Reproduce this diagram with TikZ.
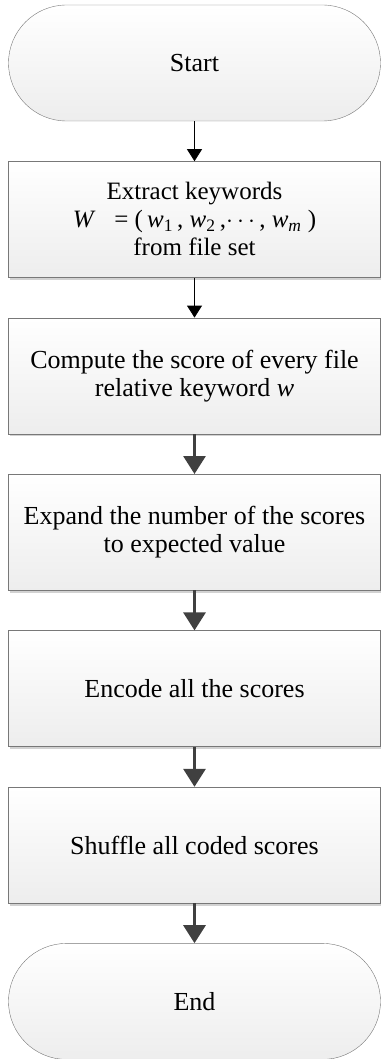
\documentclass[tikz,border=0pt]{standalone}
\usepackage{fontspec}
\setmainfont{Liberation Serif}
\usepackage{tikz}
\usetikzlibrary{arrows.meta,positioning,shadows}

\definecolor{boxline}{RGB}{120,120,120}
\definecolor{arrowgray}{RGB}{64,64,64}

\tikzset{
	terminal/.style={draw=boxline, rounded corners=58pt, minimum width=372pt, minimum height=116pt,
		top color=white, bottom color=gray!14, font=\fontsize{26}{28}\selectfont},
	process/.style={draw=boxline, minimum width=372pt, minimum height=116pt, align=center,
		top color=white, bottom color=gray!14, font=\fontsize{26}{28}\selectfont,
		drop shadow={shadow xshift=1.5pt, shadow yshift=-2.5pt, fill=gray!70}},
	thinarrow/.style={line width=0.8pt, -{Triangle[length=12pt,width=15pt]}},
	thickarrow/.style={line width=3pt, draw=arrowgray, -{Triangle[length=18pt,width=22pt]}}
}

\begin{document}
\begin{tikzpicture}[node distance=40pt]
		\useasboundingbox (0,0) rectangle (380pt,-1059pt);

		\node[terminal] (start) at (194.5pt,-63pt) {Start};
		\node[process, below=of start, font=\fontsize{25}{28}\selectfont] (extract) {
			Extract keywords\\
			\textit{W}\enspace\ =\ (\,\textit{w}\textsubscript{1}\,,\ \textit{w}\textsubscript{2}\,,$\cdots$\,,\ \textit{w}\textsubscript{\textit{m}}\ )\\
			from file set};
		\node[process, below=of extract] (score) {Compute the score of every file\\relative keyword \textit{w}};
		\node[process, below=of score] (expand) {Expand the number of the scores\\to expected value};
		\node[process, below=of expand] (encode) {Encode all the scores};
		\node[process, below=of encode] (shuffle) {Shuffle all coded scores};
		\node[terminal, below=of shuffle] (end) {End};

		\draw[thinarrow] (start) -- (extract);
		\draw[thinarrow] (extract) -- (score);
		\draw[thickarrow] (score) -- (expand);
		\draw[thickarrow] (expand) -- (encode);
		\draw[thickarrow] (encode) -- (shuffle);
		\draw[thickarrow] (shuffle) -- (end);
	\end{tikzpicture}
\end{document}
